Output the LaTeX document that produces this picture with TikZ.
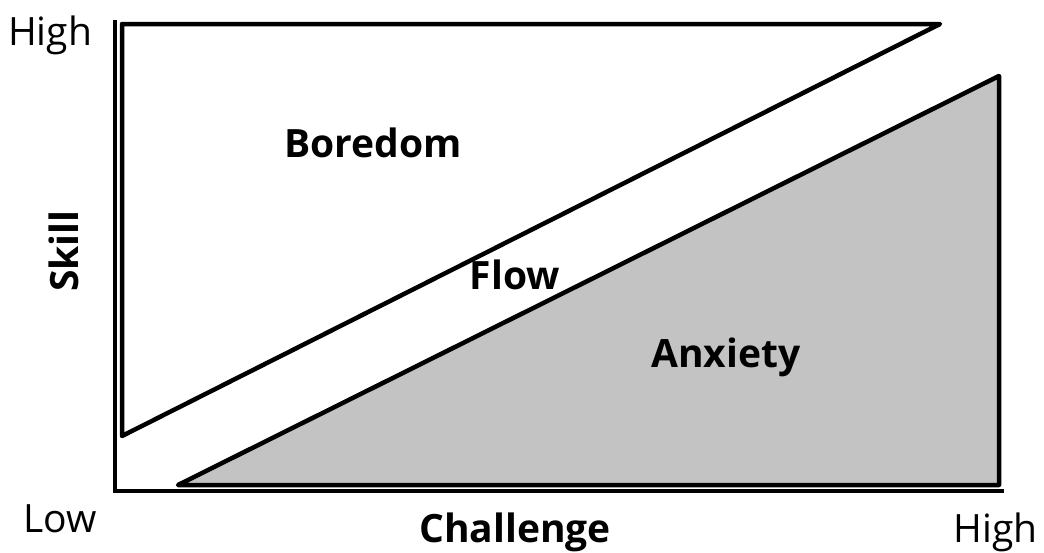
\documentclass[tikz,border=0pt]{standalone}
\usepackage{fontspec}
\setmainfont{Open Sans}
\usepackage{xcolor}
\usepackage{tikz}
\definecolor{anxiety_gray}{RGB}{195,195,195}

\begin{document}
\begin{tikzpicture}[x=1pt, y=-1pt,
    zone/.style={draw=black, line width=4.5pt, line join=round},
    axislabel/.style={font=\fontsize{39}{44}\selectfont, inner sep=0pt},
    zonelabel/.style={font=\fontsize{39}{44}\selectfont\bfseries, inner sep=0pt}]
        \useasboundingbox (0,0) rectangle (1044,552);
        % Axes
        \draw[line width=4.5pt, line join=miter]
          (115,20) -- (115,491) -- (1004,491);
        % Boredom region (upper triangle)
        \draw[zone, fill=white]
          (122,24) -- (940,24) -- (122,436) -- cycle;
        % Anxiety region (lower triangle)
        \draw[zone, fill=anxiety_gray]
          (178,485) -- (999,76) -- (999,485) -- cycle;
        % Labels
        \node[zonelabel, anchor=base] (boredom) at (373,157) {Boredom};
        \node[zonelabel, anchor=base] (flow) at (515,289) {Flow};
        \node[zonelabel, anchor=base] (anxiety) at (726,367) {Anxiety};
        \node[zonelabel, anchor=base] (challenge) at (515,542) {Challenge};
        \node[zonelabel, rotate=90, anchor=base] (skill) at (78,251) {Skill};
        \node[axislabel, anchor=base west] (skillhigh) at (8,45) {High};
        \node[axislabel, anchor=base west] (challow) at (23,532) {Low};
        \node[axislabel, anchor=base east] (challhigh) at (1038,542) {High};
      \end{tikzpicture}
\end{document}
